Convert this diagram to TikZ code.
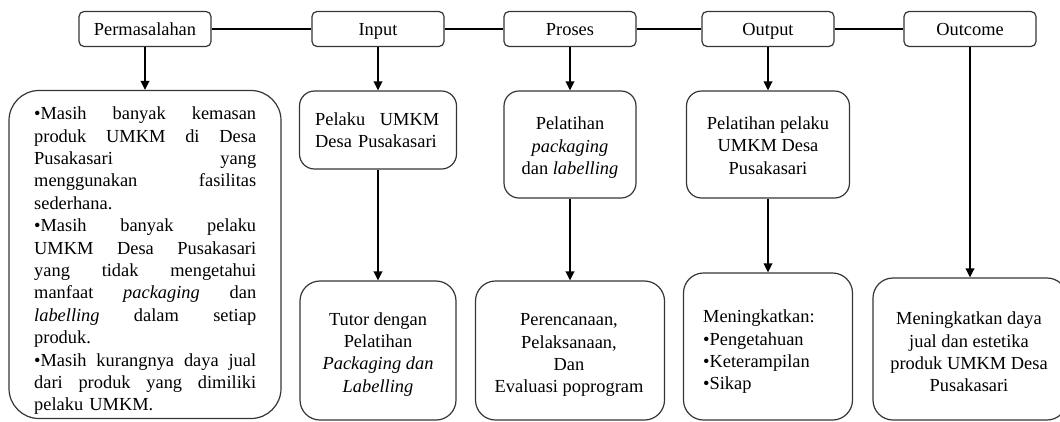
\documentclass[tikz,border=0pt]{standalone}
\usepackage{fontspec}
\setmainfont{Liberation Serif}
\usetikzlibrary{arrows.meta}
\definecolor{boxc}{HTML}{353535}
\newcommand{\jline}[1]{\leavevmode\hbox to 222pt{#1}}
\begin{document}
\begin{tikzpicture}[x=1pt,y=-1pt,
  every node/.style={font=\fontsize{18.4}{22.4}\selectfont, inner sep=0pt},
  boxbase/.style={draw=boxc, line width=1.2pt},
  head/.style={boxbase, rounded corners=5pt, minimum width=132pt, minimum height=35pt,
               text height=15pt, text depth=3pt},
  midbox/.style={boxbase, rounded corners=15pt},
  lowbox/.style={boxbase, rounded corners=20pt},
  txtc/.style={anchor=north, align=center},
  txtl/.style={anchor=north west, align=left},
  conn/.style={line width=2pt, black},
  arr/.style={conn, -{Triangle[length=9pt,width=8.5pt]}}]
\useasboundingbox (0,0) rectangle (1060,421);
\clip (0,0) rectangle (1060,421);
% header row
\node[head] (perm) at (145,29) {Permasalahan};
\node[head] (inp)  at (378,29) {Input};
\node[head] (pros) at (570,29) {Proses};
\node[head] (outp) at (768,29) {Output};
\node[head] (outc) at (970,29) {Outcome};
\draw[conn] (perm.east) -- (inp.west);
\draw[conn] (inp.east) -- (pros.west);
\draw[conn] (pros.east) -- (outp.west);
\draw[conn] (outp.east) -- (outc.west);
% boxes
\node[boxbase, rounded corners=30pt, minimum width=272pt, minimum height=328pt] (prob) at (145,254.5) {};
\node[midbox, minimum width=157pt, minimum height=78pt] (in1) at (378,130) {};
\node[lowbox, minimum width=156pt, minimum height=139pt] (in2) at (378,350.5) {};
\node[midbox, minimum width=132pt, minimum height=107pt] (pr1) at (570,144.5) {};
\node[lowbox, minimum width=189pt, minimum height=139pt] (pr2) at (570,350.5) {};
\node[midbox, minimum width=163pt, minimum height=107pt] (ou1) at (768,144.5) {};
\node[lowbox, minimum width=169pt, minimum height=147pt] (ou2) at (768,346.5) {};
\node[lowbox, minimum width=194pt, minimum height=142pt] (oc2) at (970,349) {};
% texts
\node[txtl, text width=222pt] (probT) at (34,103.8) {%
\strut\jline{•Masih\hfill banyak\hfill kemasan}\\
\jline{produk\hfill UMKM\hfill di\hfill Desa}\\
\jline{Pusakasari\hfill yang}\\
\jline{menggunakan\hfill fasilitas}\\
sederhana.\\
\jline{•Masih\hfill banyak\hfill pelaku}\\
\jline{UMKM\hfill Desa\hfill Pusakasari}\\
\jline{yang\hfill tidak\hfill mengetahui}\\
\jline{manfaat\hfill \textit{packaging}\hfill dan}\\
\jline{\textit{labelling}\hfill dalam\hfill setiap}\\
produk.\\
\jline{•Masih\hfill kurangnya\hfill daya\hfill jual}\\
\jline{dari\hfill produk\hfill yang\hfill dimiliki}\\
pelaku UMKM.};
\node[txtl, text width=126pt] (in1T) at (315,109.3)
  {\strut\leavevmode\hbox to 124pt{Pelaku\hfill UMKM}\\Desa Pusakasari};
\node[txtc] (in2T) at (378,309.3)
  {\strut Tutor dengan\\Pelatihan\\\textit{Packaging dan}\\\textit{Labelling}};
\node[txtc] (pr1T) at (570,113.8)
  {\strut Pelatihan\\\textit{packaging}\\dan \textit{labelling}};
\node[txtc] (pr2T) at (569,309.8)
  {\strut Perencanaan,\\Pelaksanaan,\\Dan\\Evaluasi poprogram};
\node[txtc] (ou1T) at (768,113.6)
  {\strut Pelatihan pelaku\\UMKM Desa\\Pusakasari};
\node[txtl, text width=131pt] (ou2T) at (703,306.8)
  {\strut Meningkatkan:\\•Pengetahuan\\•Keterampilan\\•Sikap};
\node[txtc] (oc2T) at (969,308.8)
  {\strut Meningkatkan daya\\jual dan estetika\\produk UMKM Desa\\Pusakasari};
% arrows
\draw[arr] (perm.south) -- (perm.south |- prob.north);
\draw[arr] (inp.south) -- (inp.south |- in1.north);
\draw[arr] (in1.south) -- (in1.south |- in2.north);
\draw[arr] (pros.south) -- (pros.south |- pr1.north);
\draw[arr] (pr1.south) -- (pr1.south |- pr2.north);
\draw[arr] (outp.south) -- (outp.south |- ou1.north);
\draw[arr] (ou1.south) -- (ou1.south |- ou2.north);
\draw[arr] (outc.south) -- (outc.south |- oc2.north);
\end{tikzpicture}
\end{document}
